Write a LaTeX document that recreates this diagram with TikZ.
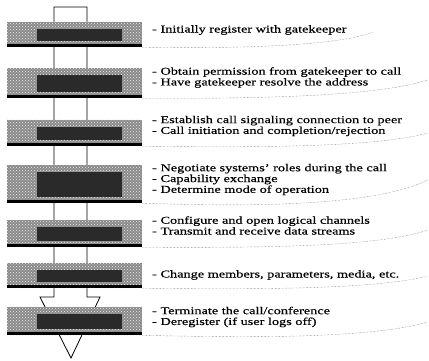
\documentclass[tikz,border=0pt]{standalone}
\usepackage{fontspec}
\setmainfont{Liberation Serif}[FakeStretch=1.36, FakeBold=0.4]
\usetikzlibrary{patterns,positioning}
\definecolor{colorBoite}{HTML}{8A8A8A}
\definecolor{colorBande}{HTML}{2A2A2A}
\definecolor{colorTrait}{HTML}{555555}
\def\colorBoite{colorBoite}
\def\colorBande{colorBande}
\def\colorTrait{colorTrait}

\begin{document}
\begin{tikzpicture}[x=1pt,y=-1pt,
  etape/.style={minimum width=135pt, inner sep=0pt, draw=none,
    preaction={fill=\colorBoite},
    pattern=crosshatch dots, pattern color=white!85!gray,
    path picture={
      \fill[\colorBande] ([shift={(30pt,6pt)}]path picture bounding box.south west)
        rectangle ([shift={(-20pt,-7pt)}]path picture bounding box.north east);
      \fill[black] (path picture bounding box.south west)
        rectangle ([yshift=3pt]path picture bounding box.south east);
    }},
  texte/.style={anchor=west, align=left, inner sep=0pt,
    font=\fontsize{10.5}{10.8}\selectfont},
  bord/.style={densely dotted, thin, color=\colorTrait}
  ]
\useasboundingbox (0,0) rectangle (429,361);

% La grande fleche
\draw[thick, fill=white]
    (54,7) -- (87,7) -- (87,297) -- (100,297) -- (71,358)
    -- (40,297) -- (54,297) -- cycle;

% Les etapes
\node[etape, minimum height=25pt] (s1) at (74.5,34.5) {};
\node[etape, minimum height=30pt] (s2) at (74.5,83) {};
\node[etape, minimum height=26pt] (s3) at (74.5,133) {};
\node[etape, minimum height=38pt] (s4) at (74.5,184) {};
\node[etape, minimum height=27pt] (s5) at (74.5,233.5) {};
\node[etape, minimum height=25pt] (s6) at (74.5,275.5) {};
\node[etape, minimum height=28pt] (s7) at (74.5,321) {};

% Les textes
\node[texte] (t1) at (152,30) {- Initially register with gatekeeper};
\node[texte] (t2) at (152,77.5) {- Obtain permission from gatekeeper to call\\
  - Have gatekeeper resolve the address};
\node[texte] (t3) at (152,126) {- Establish call signaling connection to peer\\
  - Call initiation and completion/rejection};
\node[texte] (t4) at (152,179.5) {- Negotiate systems' roles during the call\\
  - Capability exchange\\
  - Determine mode of operation};
\node[texte] (t5) at (152,225.5) {- Configure and open logical channels\\
  - Transmit and receive data streams};
\node[texte] (t6) at (152,275) {- Change members, parameters, media, etc.};
\node[texte] (t7) at (152,317) {- Terminate the call/conference\\
  - Deregister (if user logs off)};

% Les bords en pointille
\coordinate (f1) at (373,32);
\coordinate (f2) at (428,80);
\coordinate (f3) at (428,133);
\coordinate (f4) at (428,180);
\coordinate (f5) at (428,230);
\coordinate (f6) at (428,276);
\coordinate (f7) at (428,322);
\draw[bord] (s1.south east) .. controls (250,49) and (340,45) .. (f1);
\draw[bord] (s2.south east) .. controls (280,99) and (380,95) .. (f2);
\draw[bord] (s3.south east) .. controls (280,148) and (380,146) .. (f3);
\draw[bord] (s4.south east) .. controls (280,208) and (380,203) .. (f4);
\draw[bord] (s5.south east) .. controls (280,248) and (380,246) .. (f5);
\draw[bord] (s6.south east) .. controls (280,290) and (380,288) .. (f6);
\draw[bord] (s7.south east) .. controls (280,339) and (380,336) .. (f7);

\end{tikzpicture}
\end{document}
